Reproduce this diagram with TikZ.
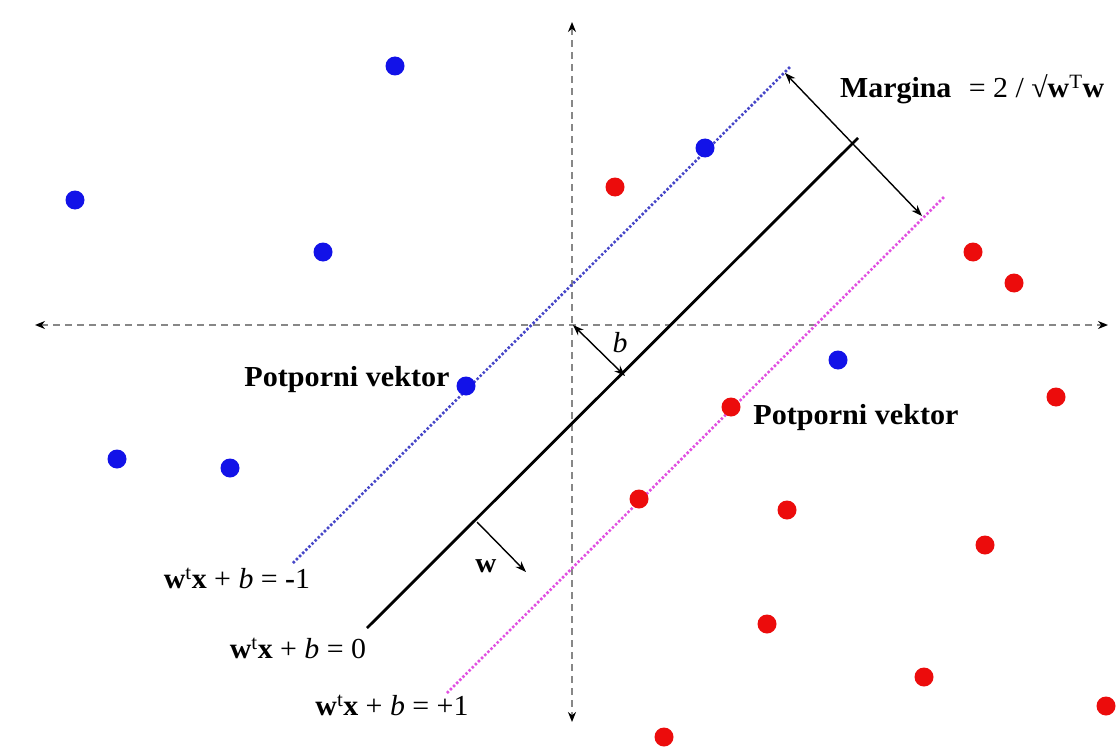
\documentclass[tikz,border=0pt]{standalone}
\usepackage{fontspec}
\setmainfont{Liberation Serif}
\usetikzlibrary{arrows.meta}
\definecolor{ptblue}{RGB}{18,18,232}
\definecolor{ptred}{RGB}{236,12,12}
\definecolor{lnblue}{RGB}{70,70,200}
\definecolor{lnmag}{RGB}{225,80,225}
\definecolor{axgray}{RGB}{135,135,135}
\begin{document}
\begin{tikzpicture}[x=1pt,y=-1pt,
  bpt/.style={circle,fill=ptblue,inner sep=0pt,minimum size=19pt},
  rpt/.style={circle,fill=ptred,inner sep=0pt,minimum size=19pt},
  axisline/.style={axgray,line width=1.8pt,dash pattern=on 7pt off 5pt,
    {Stealth[length=10pt,width=8pt,black]}-{Stealth[length=10pt,width=8pt,black]}},
  marginline/.style={line width=2.6pt,dash pattern=on 2.4pt off 2pt},
  thinarrow/.style={black,line width=1.4pt},
  lbl/.style={font=\fontsize{29}{34}\selectfont\bfseries,inner sep=0pt,xscale=1.04},
  eq/.style={font=\fontsize{29}{34}\selectfont,inner sep=0pt,xscale=1.03}]
\useasboundingbox[fill=white] (0,0) rectangle (1116,749);
% axes
\coordinate (xl) at (35,325);
\coordinate (xr) at (1108,325);
\coordinate (yt) at (572,22);
\coordinate (yb) at (572,722);
\coordinate (o) at (573,325);
\draw[axisline] (xl) -- (xr);
\draw[axisline] (yt) -- (yb);
% hyperplanes
\coordinate (h0a) at (367,628);
\coordinate (h0b) at (858,138);
\coordinate (hma) at (293,563);
\coordinate (hmb) at (790,67);
\coordinate (hpa) at (447,693);
\coordinate (hpb) at (944,197);
\draw[black,line width=2.8pt] (h0a) -- (h0b);
\draw[lnblue,marginline] (hma) -- (hmb);
\draw[lnmag,marginline] (hpa) -- (hpb);
% margin arrow
\coordinate (m1) at (785,73);
\coordinate (m2) at (922,216);
\draw[thinarrow,{Stealth[length=11pt,width=8pt]}-{Stealth[length=11pt,width=8pt]}] (m1) -- (m2);
% b arrow
\coordinate (bt) at (625,376);
\draw[thinarrow,{Stealth[length=11pt,width=8pt]}-{Stealth[length=11pt,width=8pt]}] (o) -- (bt);
\node[eq,font=\fontsize{29}{34}\selectfont\itshape] (blab) at (620,343) {b};
% w arrow
\coordinate (ws) at (477,522);
\coordinate (we) at (526,572);
\draw[thinarrow,-{Stealth[length=11pt,width=8pt]}] (ws) -- (we);
\node[lbl,font=\fontsize{28}{34}\selectfont\bfseries] (wlab) at (486,566) {w};
% points
\foreach \n/\x/\y in {b1/395/66,b2/75/200,b3/323/252,b4/705/148,b5/466/386,b6/117/459,b7/230/468,b8/838/360}
  \node[bpt] (\n) at (\x,\y) {};
\foreach \n/\x/\y in {r1/615/187,r2/973/252,r3/1014/283,r4/1056/397,r5/731/407,r6/639/499,r7/787/510,r8/985/545,r9/767/624,r10/924/677,r11/1106/706,r12/664/737}
  \node[rpt] (\n) at (\x,\y) {};
% labels
\node[lbl] (sv1) at (347,380) {Potporni vektor};
\node[lbl] (sv2) at (856,418) {Potporni vektor};
\node[eq,anchor=west] (mg) at (840,89) {\textbf{Margina}\,\, = 2 / √\textbf{w}\textsuperscript{T}\textbf{w}};
\node[eq] (e1) at (237,578) {\textbf{w}\textsuperscript{t}\textbf{x} + \textit{b} = \textbf{-}1};
\node[eq] (e2) at (298,648) {\textbf{w}\textsuperscript{t}\textbf{x} + \textit{b} = 0};
\node[eq] (e3) at (392,705) {\textbf{w}\textsuperscript{t}\textbf{x} + \textit{b} = +1};
\end{tikzpicture}
\end{document}
